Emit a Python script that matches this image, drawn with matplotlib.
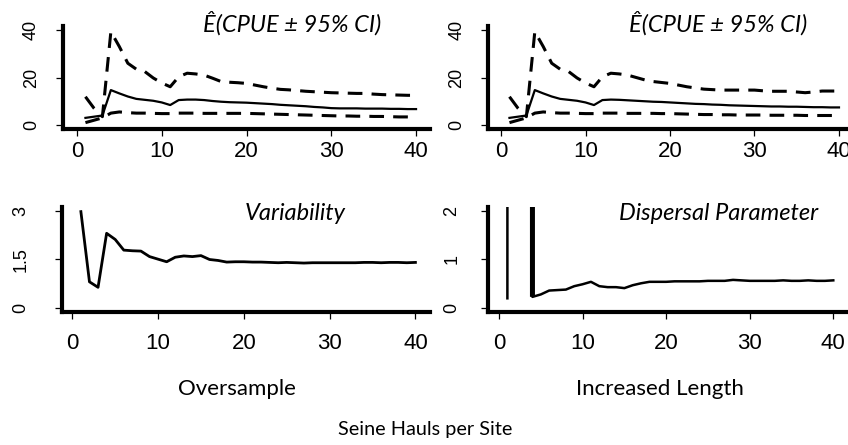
import numpy as np
import matplotlib
matplotlib.use("Agg")
import matplotlib.pyplot as plt

# ---------------- data ----------------
hauls = list(range(1, 41))

# Oversample: expected CPUE and 95% CI
os_mean = [3.0, 3.5, 4.0, 14.7, 13.3, 12.0, 11.0, 10.6, 10.2, 9.5,
           8.4, 10.5, 10.7, 10.7, 10.5, 10.1, 9.8, 9.6, 9.5, 9.4,
           9.2, 9.0, 8.8, 8.5, 8.3, 8.1, 7.9, 7.6, 7.4, 7.1,
           7.0, 7.0, 7.0, 6.9, 6.9, 6.9, 6.8, 6.8, 6.7, 6.7]
os_upper = [11.9, 7.1, 3.5, 39.3, 33.0, 26.0, 23.5, 22.5, 19.8, 17.7,
            16.1, 20.3, 21.8, 21.5, 21.0, 19.7, 18.3, 18.0, 17.8, 17.5,
            16.8, 16.1, 15.5, 15.0, 14.8, 14.5, 14.2, 14.0, 13.8, 13.6,
            13.5, 13.4, 13.3, 13.3, 13.0, 12.8, 12.7, 12.6, 12.5, 12.5]
os_lower = [1.0, 2.0, 3.0, 5.0, 5.5, 5.2, 5.0, 5.0, 4.9, 4.8,
            4.8, 5.0, 5.0, 5.0, 4.9, 4.9, 4.9, 4.9, 4.9, 4.9,
            4.8, 4.7, 4.6, 4.5, 4.4, 4.3, 4.2, 4.1, 4.0, 3.9,
            3.8, 3.8, 3.7, 3.7, 3.6, 3.6, 3.5, 3.4, 3.4, 3.3]

# Increased length: expected CPUE and 95% CI
il_mean = [3.0, 3.5, 4.0, 14.7, 13.3, 12.0, 11.0, 10.6, 10.2, 9.5,
           8.4, 10.5, 10.7, 10.6, 10.4, 10.2, 10.0, 9.8, 9.7, 9.5,
           9.3, 9.1, 8.9, 8.8, 8.6, 8.5, 8.3, 8.2, 8.1, 8.0,
           7.9, 7.8, 7.8, 7.7, 7.7, 7.6, 7.5, 7.5, 7.4, 7.4]
il_upper = [11.9, 7.1, 3.5, 39.3, 33.0, 26.0, 23.5, 22.5, 19.8, 17.7,
            16.1, 20.3, 21.8, 21.5, 21.0, 20.0, 19.0, 18.3, 17.9, 17.5,
            16.8, 16.1, 15.6, 15.1, 14.9, 14.7, 14.7, 14.7, 14.7, 14.7,
            14.4, 14.2, 14.2, 14.2, 13.9, 13.6, 13.9, 14.3, 14.3, 14.3]
il_lower = [1.0, 2.0, 3.0, 5.0, 5.5, 5.2, 5.0, 5.0, 4.9, 4.8,
            4.8, 5.0, 5.0, 5.0, 4.9, 4.9, 4.9, 4.9, 4.8, 4.8,
            4.7, 4.6, 4.5, 4.4, 4.4, 4.3, 4.3, 4.2, 4.2, 4.2,
            4.2, 4.1, 4.1, 4.1, 4.1, 4.0, 4.0, 4.0, 4.0, 4.0]

# Oversample: variability
os_variability = [2.98, 0.81, 0.64, 2.31, 2.12, 1.79, 1.77, 1.76, 1.59, 1.51,
                  1.43, 1.57, 1.61, 1.59, 1.62, 1.50, 1.47, 1.42, 1.43, 1.43,
                  1.42, 1.42, 1.41, 1.40, 1.41, 1.40, 1.39, 1.40, 1.40, 1.40,
                  1.40, 1.40, 1.40, 1.41, 1.41, 1.40, 1.41, 1.41, 1.40, 1.41]

# Increased length: dispersal parameter (first estimates diverge)
il_dispersal = [0.20, 1000.0, 1000.0, 0.23, 0.28, 0.36, 0.37, 0.38, 0.45, 0.49,
                0.54, 0.45, 0.43, 0.43, 0.41, 0.47, 0.51, 0.54, 0.54, 0.54,
                0.55, 0.55, 0.55, 0.55, 0.56, 0.56, 0.56, 0.58, 0.57, 0.56,
                0.56, 0.56, 0.56, 0.57, 0.56, 0.56, 0.57, 0.56, 0.56, 0.57]

x_ticks = [0, 10, 20, 30, 40]
cpue_ticks = [0, 20, 40]
var_ticks = [0, 1.5, 3]
var_ticklabels = ["0", "1.5", "3"]
disp_ticks = [0, 1, 2]

cpue_title = "Ê(CPUE ± 95% CI)"
var_title = "Variability"
disp_title = "Dispersal Parameter"
col_labels = ["Oversample", "Increased Length"]
x_label = "Seine Hauls per Site"

# ---------------- figure ----------------
W, H = 848, 445
fig = plt.figure(figsize=(W / 100, H / 100), dpi=100)

TICKFONT = "Liberation Sans"
TXTFONT = "Lato"


def rect(l, r, t, b):
    return [l / W, 1 - b / H, (r - l) / W, (b - t) / H]


def style(ax, xlim, ylim, yticks, yticklabels, xpad, ypad):
    ax.set_xlim(*xlim)
    ax.set_ylim(*ylim)
    for s in ("top", "right"):
        ax.spines[s].set_visible(False)
    for s in ("left", "bottom"):
        ax.spines[s].set_linewidth(3.0)
        ax.spines[s].set_capstyle("projecting")
    ax.set_xticks(x_ticks)
    ax.set_xticklabels([str(t) for t in x_ticks], fontfamily=TICKFONT, fontsize=16)
    ax.set_yticks(yticks)
    ax.set_yticklabels(yticklabels, fontfamily=TICKFONT, fontsize=13,
                       rotation=90, va="center")
    ax.tick_params(axis="both", direction="out", length=5, width=0.9, color="black")
    ax.tick_params(axis="x", pad=xpad)
    ax.tick_params(axis="y", pad=ypad)
    ax.patch.set_alpha(0)


dash = (0, (4.8, 3.0))

# top-left
ax1 = fig.add_axes(rect(63.4, 429.6, 26.2, 128.8))
style(ax1, (-1.6, 41.6), (-1.6, 41.6), cpue_ticks, [str(t) for t in cpue_ticks], 4, 12)
ax1.plot(hauls, os_mean, color="black", lw=1.6)
ax1.plot(hauls, os_upper, color="black", lw=2.2, linestyle=dash)
ax1.plot(hauls, os_lower, color="black", lw=2.2, linestyle=dash)

# top-right
ax2 = fig.add_axes(rect(487.5, 852.5, 26.2, 128.8))
style(ax2, (-1.6, 41.6), (-1.6, 41.6), cpue_ticks, [str(t) for t in cpue_ticks], 4, 11)
ax2.plot(hauls, il_mean, color="black", lw=1.6)
ax2.plot(hauls, il_upper, color="black", lw=2.2, linestyle=dash)
ax2.plot(hauls, il_lower, color="black", lw=2.2, linestyle=dash)

# bottom-left
ax3 = fig.add_axes(rect(61.5, 430, 207.1, 311.9))
style(ax3, (-1.26, 41.7), (-0.12, 3.12), var_ticks, var_ticklabels, 10, 18)
ax3.plot(hauls, os_variability, color="black", lw=2.0)

# bottom-right
ax4 = fig.add_axes(rect(488, 850, 207.1, 311.9))
style(ax4, (-1.32, 42.0), (-0.08, 2.08), disp_ticks, [str(t) for t in disp_ticks], 10, 15)
ax4.plot(hauls, il_dispersal, color="black", lw=1.8)
# the drop back from the diverging estimates is drawn heavier in the original
ax4.plot(hauls[2:4], il_dispersal[2:4], color="black", lw=3.6, solid_capstyle="butt")


def ftext(x, y, s, **kw):
    fig.text(x / W, 1 - y / H, s, **kw)


ftext(292, 32, cpue_title, ha="center", va="baseline", fontfamily=TXTFONT,
      style="italic", fontsize=17)
ftext(718, 32, cpue_title, ha="center", va="baseline", fontfamily=TXTFONT,
      style="italic", fontsize=17)
ftext(295, 220, var_title, ha="center", va="baseline", fontfamily=TXTFONT,
      style="italic", fontsize=17)
ftext(719, 220, disp_title, ha="center", va="baseline", fontfamily=TXTFONT,
      style="italic", fontsize=17)
ftext(237, 395, col_labels[0], ha="center", va="baseline", fontfamily=TXTFONT, fontsize=16)
ftext(660, 395, col_labels[1], ha="center", va="baseline", fontfamily=TXTFONT, fontsize=16)
ftext(425, 435, x_label, ha="center", va="baseline", fontfamily=TXTFONT, fontsize=14.3)

fig.savefig("out.png", dpi=100, facecolor="white")
